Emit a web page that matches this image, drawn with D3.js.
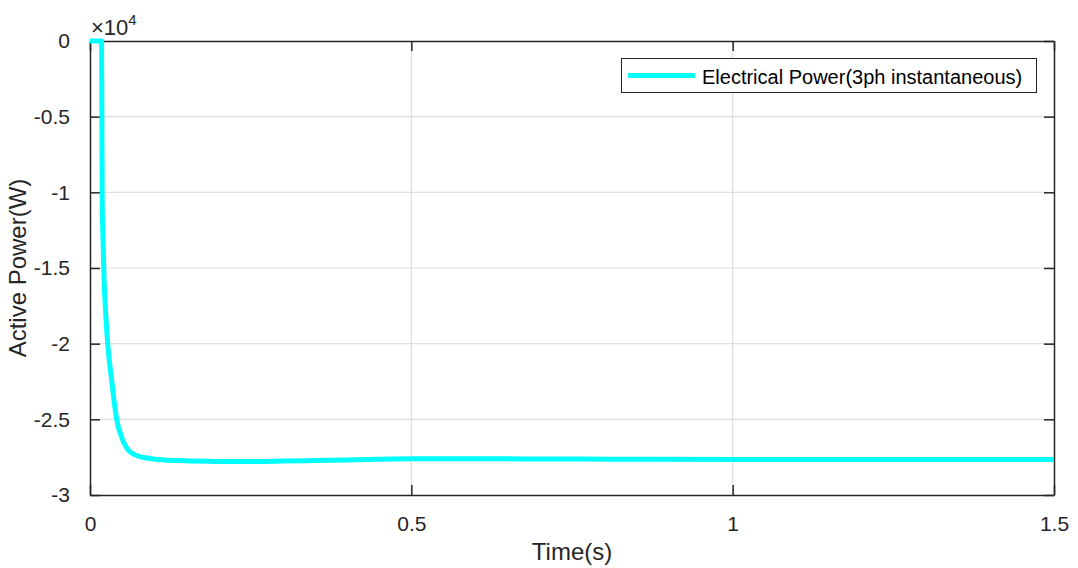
<!DOCTYPE html>
<html>
<head>
<meta charset="utf-8">
<script src="https://cdn.jsdelivr.net/npm/d3@7"></script>
<style>
  html, body { margin: 0; padding: 0; background: #fff; }
  svg { display: block; font-family: "Liberation Sans", Arial, sans-serif; }
</style>
</head>
<body>
<svg id="chart" width="1078" height="568"></svg>
<script>
// Three-phase instantaneous electrical power during start-up
const timeSeries = [0, 0.018, 0.0185, 0.019, 0.0205, 0.0218, 0.0245, 0.0275, 0.0305, 0.0337, 0.0375, 0.0415,
  0.049, 0.0597, 0.078, 0.106, 0.148, 0.2, 0.25, 0.3, 0.35, 0.4, 0.45, 0.5, 0.55, 0.6, 0.65, 0.7,
  0.8, 0.9, 1.0, 1.1, 1.2, 1.3, 1.4, 1.5];
const powerSeries = [0, 0, -5000, -10500, -13500, -15600, -18000, -20000, -21300, -22400, -23800, -25000,
  -26150, -27030, -27470, -27650, -27740, -27780, -27790, -27760, -27720, -27680, -27640, -27610, -27600, -27600, -27610, -27620,
  -27630, -27640, -27650, -27650, -27650, -27660, -27650, -27650];
const xTicks = [0, 0.5, 1, 1.5];
const yTicks = [0, -5000, -10000, -15000, -20000, -25000, -30000];
const seriesName = "Electrical Power(3ph instantaneous)";

const margin = { left: 90, top: 41, right: 24, bottom: 73 };
const W = 1078, H = 568;
const pw = W - margin.left - margin.right;
const ph = H - margin.top - margin.bottom;
const axisColor = "#262626";
const gridColor = "#dedede";

const svg = d3.select("#chart");
const g = svg.append("g").attr("transform", `translate(${margin.left},${margin.top})`);

const x = d3.scaleLinear().domain([0, 1.5]).range([0, pw]);
const y = d3.scaleLinear().domain([-30000, 0]).range([ph, 0]);

// grid lines
g.append("g").selectAll("line").data(xTicks.slice(1, -1)).join("line")
  .attr("x1", d => x(d)).attr("x2", d => x(d)).attr("y1", 0).attr("y2", ph)
  .attr("stroke", gridColor).attr("stroke-width", 1.2);
g.append("g").selectAll("line").data(yTicks.slice(1, -1)).join("line")
  .attr("y1", d => y(d)).attr("y2", d => y(d)).attr("x1", 0).attr("x2", pw)
  .attr("stroke", gridColor).attr("stroke-width", 1.2);

// axes with inward ticks, mirrored on top and right
const fmtY = d => String(d / 10000);
const fmtX = d => String(d);
const styleAxis = sel => {
  sel.select(".domain").attr("stroke", axisColor).attr("stroke-width", 1.5);
  sel.selectAll(".tick line").attr("stroke", axisColor).attr("stroke-width", 1.5);
  sel.selectAll(".tick text").attr("fill", axisColor).style("font-size", "21px").style("font-family", "Liberation Sans, Arial, sans-serif");
};

g.append("g").attr("transform", `translate(0,${ph})`)
  .call(d3.axisBottom(x).tickValues(xTicks).tickFormat(fmtX).tickSizeInner(-10).tickSizeOuter(0).tickPadding(21))
  .call(styleAxis);
g.append("g")
  .call(d3.axisTop(x).tickValues(xTicks).tickFormat("").tickSizeInner(-10).tickSizeOuter(0))
  .call(styleAxis);
g.append("g")
  .call(d3.axisLeft(y).tickValues(yTicks).tickFormat(fmtY).tickSizeInner(-10).tickSizeOuter(0).tickPadding(20))
  .call(styleAxis);
g.append("g").attr("transform", `translate(${pw},0)`)
  .call(d3.axisRight(y).tickValues(yTicks).tickFormat("").tickSizeInner(-10).tickSizeOuter(0))
  .call(styleAxis);

// power curve
const data = timeSeries.map((t, i) => ({ t, p: powerSeries[i] }));
const line = d3.line().x(d => x(d.t)).y(d => y(d.p)).curve(d3.curveMonotoneX);
g.append("path").datum(data).attr("d", line)
  .attr("fill", "none").attr("stroke", "#00ffff").attr("stroke-width", 5)
  .attr("stroke-linejoin", "round");

// exponent label
const ex = svg.append("text").attr("x", margin.left + 1).attr("y", 35)
  .attr("fill", axisColor).style("font-size", "22px");
ex.append("tspan").text("\u00d710");
ex.append("tspan").attr("dy", -10).style("font-size", "15px").text("4");

// axis titles
svg.append("text").attr("x", margin.left + pw / 2).attr("y", 560)
  .attr("text-anchor", "middle").attr("fill", axisColor).style("font-size", "24px")
  .text("Time(s)");
svg.append("text")
  .attr("transform", `translate(26,${margin.top + ph / 2}) rotate(-90)`)
  .attr("text-anchor", "middle").attr("fill", axisColor).style("font-size", "24px")
  .text("Active Power(W)");

// legend
const lg = svg.append("g");
lg.append("rect").attr("x", 621.5).attr("y", 58.5).attr("width", 415).attr("height", 34)
  .attr("fill", "#fff").attr("stroke", axisColor).attr("stroke-width", 1);
lg.append("line").attr("x1", 628).attr("x2", 695).attr("y1", 75.5).attr("y2", 75.5)
  .attr("stroke", "#00ffff").attr("stroke-width", 5);
lg.append("text").attr("x", 702).attr("y", 84).attr("fill", "#000").style("font-size", "20px")
  .text(seriesName);
</script>
</body>
</html>
